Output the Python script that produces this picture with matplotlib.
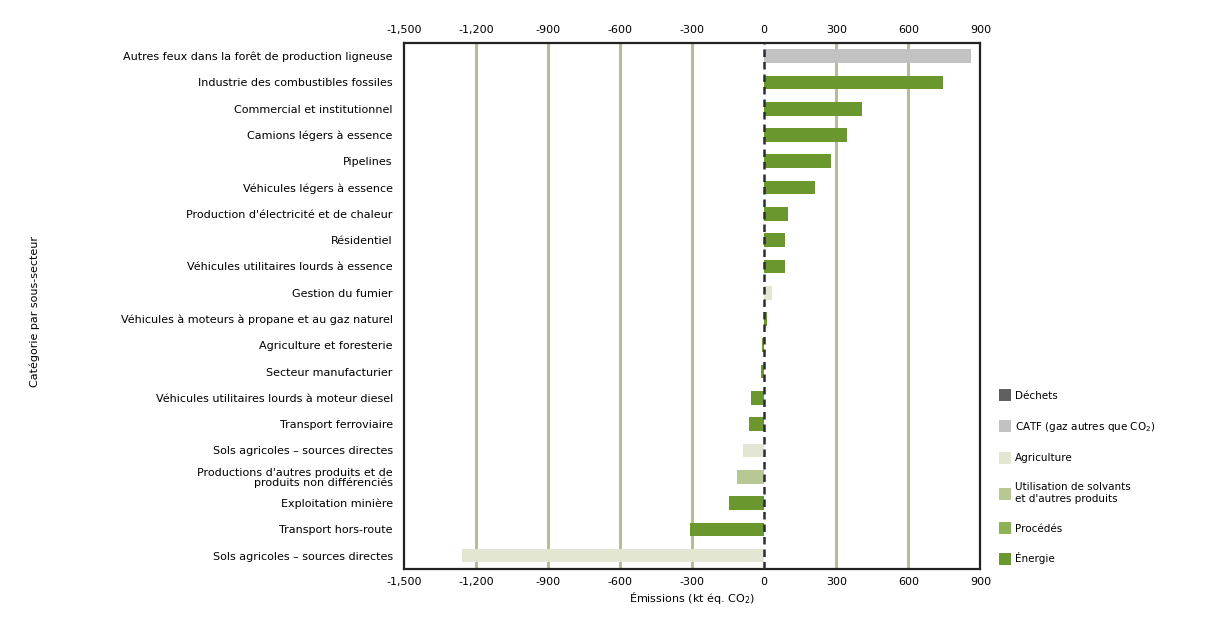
import numpy as np
import matplotlib
matplotlib.use("Agg")
import matplotlib.pyplot as plt
from matplotlib.patches import Patch

categories = [
    "Autres feux dans la forêt de production ligneuse",
    "Industrie des combustibles fossiles",
    "Commercial et institutionnel",
    "Camions légers à essence",
    "Pipelines",
    "Véhicules légers à essence",
    "Production d'électricité et de chaleur",
    "Résidentiel",
    "Véhicules utilitaires lourds à essence",
    "Gestion du fumier",
    "Véhicules à moteurs à propane et au gaz naturel",
    "Agriculture et foresterie",
    "Secteur manufacturier",
    "Véhicules utilitaires lourds à moteur diesel",
    "Transport ferroviaire",
    "Sols agricoles – sources directes",
    "Productions d'autres produits et de\nproduits non différenciés",
    "Exploitation minière",
    "Transport hors-route",
    "Sols agricoles – sources directes",
]
values = [860, 745, 405, 343, 276, 213, 97, 85, 86, 32, 10, -10, -15,
          -55, -65, -88, -113, -147, -308, -1258]
sectors = ["CATF", "Énergie", "Énergie", "Énergie", "Énergie", "Énergie",
           "Énergie", "Énergie", "Énergie", "Agriculture", "Énergie", "Énergie",
           "Énergie", "Énergie", "Énergie", "Agriculture", "Solvants", "Énergie",
           "Énergie", "Agriculture"]

legend_keys = ["Déchets", "CATF", "Agriculture", "Solvants", "Procédés", "Énergie"]
legend_labels = ["Déchets", "CATF (gaz autres que CO$_2$)", "Agriculture",
                 "Utilisation de solvants\net d'autres produits", "Procédés", "Énergie"]
colors = {
    "Déchets": "#5f5f5f",
    "CATF": "#c2c2c2",
    "Agriculture": "#e3e6d2",
    "Solvants": "#b7c895",
    "Procédés": "#8db153",
    "Énergie": "#6a972e",
}

plt.rcParams["font.family"] = ["DejaVu Sans"]

fig = plt.figure(figsize=(12.24, 6.23), dpi=100)
ax = fig.add_axes([0.330, 0.087, 0.471, 0.844])

y = np.arange(len(categories))
ax.barh(y, values, height=0.52, color=[colors[s] for s in sectors], zorder=3)

ticks = [-1500, -1200, -900, -600, -300, 0, 300, 600, 900]
for t in ticks[1:-1]:
    if t != 0:
        ax.axvline(t, color="#b8bb98", lw=2.2, zorder=1)
ax.axvline(0, color="#2b2b3a", lw=1.8, ls=(0, (3, 2)), zorder=4)

ax.set_xlim(-1500, 900)
ax.set_ylim(len(categories) - 0.5, -0.5)
ax.set_xticks(ticks)
ax.set_xticklabels([f"{t:,}" for t in ticks], fontsize=8)
ax.tick_params(axis="x", top=True, labeltop=True, length=0, pad=6)
ax.set_yticks(y)
ax.set_yticklabels(categories, fontsize=8, linespacing=0.95)
ax.tick_params(axis="y", length=0, pad=8)
for s in ax.spines.values():
    s.set_linewidth(1.6)
    s.set_color("#222222")

ax.set_xlabel("Émissions (kt éq. CO$_2$)", fontsize=8, labelpad=2)
fig.text(0.028, 0.50, "Catégorie par sous-secteur", rotation=90,
         fontsize=8, ha="center", va="center")

handles = [Patch(facecolor=colors[k], edgecolor="none") for k in legend_keys]
fig.legend(handles, legend_labels, loc="lower left",
           bbox_to_anchor=(0.812, 0.085), frameon=False, fontsize=7.5,
           handlelength=1.1, handleheight=1.4, handletextpad=0.4,
           labelspacing=1.75, borderpad=0)

fig.savefig("out.png", dpi=100)
